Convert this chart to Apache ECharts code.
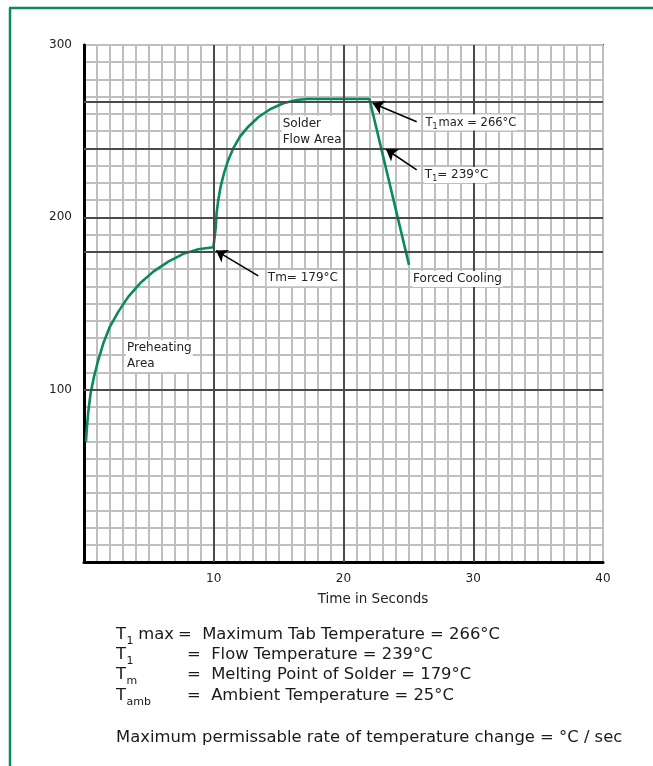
<!DOCTYPE html>
<html><head><meta charset="utf-8">
<script src="https://cdn.jsdelivr.net/npm/echarts@6/dist/echarts.min.js"></script>
<style>html,body{margin:0;padding:0;background:#fff}#c{width:653px;height:766px}</style>
</head><body><div id="c"></div>
<script>
// ---- data ----
const timeSec = [0.15,0.21,0.33,0.51,0.77,1.10,1.49,2.0,2.65,3.42,4.32,5.34,6.5,7.65,8.81,9.97,10.1,
                 10.15,10.22,10.35,10.53,10.79,11.12,11.51,12.02,12.66,13.43,14.34,15.36,16.39,17.16,22.0,25.05];
const tempC   = [69.8,76.6,87.2,97.9,107.5,117.2,126.9,136.6,145.3,154,161.7,168.5,174.3,178.8,181.5,182.6,183,
                 193.7,202.4,210.1,217.8,225.6,233.3,240.1,246.8,252.6,258.1,262.7,266.2,268.1,268.7,268.7,172.4];
const xTickLabels = [10, 20, 30, 40];
const yTickLabels = [100, 200, 300];
const majorX = [10, 20, 30];
const majorY = [100, 180, 200, 240, 267];
// annotation arrows: [tailTime, tailTemp, headTime, headTemp]
const arrowTm    = [13.43, 166, 10.17, 180.7];
const arrowT1max = [25.64, 255.5, 22.25, 266.2];
const arrowT1    = [25.64, 227.5, 23.28, 239.5];
// annotation labels: [time, temp, text]
const notes = [
  [15.2, 249.7, 'Solder\nFlow Area'],
  [3.2, 119.6, 'Preheating\nArea'],
  [14.05, 164.7, 'Tm= 179°C'],
  [26.2, 255, '{m|T}{t|1}{m|max = 266°C}'],
  [26.15, 224.6, '{n|T}{s|1}{n|= 239°C}'],
  [25.25, 164.2, 'Forced Cooling']
];
const legendRows = [
  ['T', '1', ' max', '=  Maximum Tab Temperature = 266°C'],
  ['T', '1', '', '=  Flow Temperature = 239°C'],
  ['T', 'm', '', '=  Melting Point of Solder = 179°C'],
  ['T', 'amb', '', '=  Ambient Temperature = 25°C']
];
const rateNote = 'Maximum permissable rate of temperature change = °C / sec';
const xName = 'Time in Seconds';

const F = 'DejaVu Sans';
const chart = echarts.init(document.getElementById('c'), null, {renderer:'canvas'});

const gridGray = {show:true, lineStyle:{color:'#bfbfbf', width:2}};
const labelRich = {
  n:{fontFamily:F, fontSize:12, color:'#222'},
  s:{fontFamily:F, fontSize:8, color:'#222', verticalAlign:'bottom', padding:[6,0,0,0]},
  m:{fontFamily:F, fontSize:11.5, color:'#222'},
  t:{fontFamily:F, fontSize:8, color:'#222', verticalAlign:'bottom', padding:[6,1,0,0]}
};

const LF = 16.4;
const graphics = [
  {type:'line', shape:{x1:9, y1:8, x2:653, y2:8}, style:{stroke:'#0b8a5b', lineWidth:2.5}},
  {type:'line', shape:{x1:10, y1:8, x2:10, y2:766}, style:{stroke:'#0b8a5b', lineWidth:2.5}},
  {type:'text', x:373, y:599, style:{text:xName, font:'13.5px "'+F+'"', fill:'#222', align:'center', verticalAlign:'middle'}}
];
const rowY = [635, 655, 675, 696];
legendRows.forEach((r, i) => {
  graphics.push({type:'text', x:116, y:rowY[i], style:{text:r[0], font:LF+'px "'+F+'"', fill:'#1a1a1a', verticalAlign:'middle'}});
  graphics.push({type:'text', x:126.5, y:rowY[i]+6, style:{text:r[1], font:'11px "'+F+'"', fill:'#1a1a1a', verticalAlign:'middle'}});
  if (r[2]) graphics.push({type:'text', x:133, y:rowY[i], style:{text:r[2], font:LF+'px "'+F+'"', fill:'#1a1a1a', verticalAlign:'middle'}});
  graphics.push({type:'text', x: i === 0 ? 178 : 187, y:rowY[i], style:{
    text:r[3], font:LF+'px "'+F+'"', fill:'#1a1a1a', verticalAlign:'middle'}});
});
graphics.push({type:'text', x:116, y:738, style:{text:rateNote, font:LF+'px "'+F+'"', fill:'#1a1a1a', verticalAlign:'middle'}});

const arrowLine = a => [{coord:[a[0], a[1]]}, {coord:[a[2], a[3]]}];

chart.setOption({
  animation:false,
  backgroundColor:'#fff',
  grid:{left:84, top:45, right:50, bottom:204, show:true, borderColor:'#4a4a4a', borderWidth:2, backgroundColor:'#fff'},
  xAxis:{type:'value', min:0, max:40, interval:1,
    axisLine:{show:true, onZero:false, lineStyle:{color:'#000', width:3}},
    axisTick:{show:false},
    splitLine:gridGray,
    axisLabel:{margin:11, fontFamily:F, fontSize:12, color:'#222',
      formatter:v => xTickLabels.includes(v) ? String(v) : ''}
  },
  yAxis:{type:'value', min:0, max:300, interval:10,
    axisLine:{show:true, onZero:false, lineStyle:{color:'#000', width:3}},
    axisTick:{show:false},
    splitLine:gridGray,
    axisLabel:{margin:12, fontFamily:F, fontSize:12, color:'#222',
      formatter:v => yTickLabels.includes(v) ? String(v) : ''}
  },
  graphic:graphics,
  series:[
    {type:'line', data:[], z:1, silent:true,
     markLine:{silent:true, symbol:'none', animation:false, label:{show:false},
       lineStyle:{color:'#4a4a4a', width:2, type:'solid'},
       data: majorX.map(x => ({xAxis:x})).concat(majorY.map(y => ({yAxis:y})))}},
    {type:'line', z:3, showSymbol:false, silent:true,
     data: timeSec.map((t, i) => [t, tempC[i]]),
     lineStyle:{color:'#0a8a5a', width:2.6}},
    {type:'line', data:[], z:4, silent:true, color:'#000',
     markLine:{silent:true, symbol:['none','arrow'], symbolSize:11, animation:false, label:{show:false},
       itemStyle:{color:'#000'},
       lineStyle:{color:'#000', width:1.6, type:'solid'},
       data:[arrowLine(arrowTm), arrowLine(arrowT1max), arrowLine(arrowT1)]},
     markPoint:{silent:true, animation:false, symbol:'circle', symbolSize:1,
       itemStyle:{color:'rgba(0,0,0,0)'},
       data: notes.map(n => ({coord:[n[0], n[1]], label:{show:true, position:'right', distance:0,
         formatter:n[2], fontFamily:F, fontSize:12, color:'#222', lineHeight:16,
         backgroundColor:'#fff', padding:[0,1], rich:labelRich}}))}}
  ]
});
</script></body></html>
